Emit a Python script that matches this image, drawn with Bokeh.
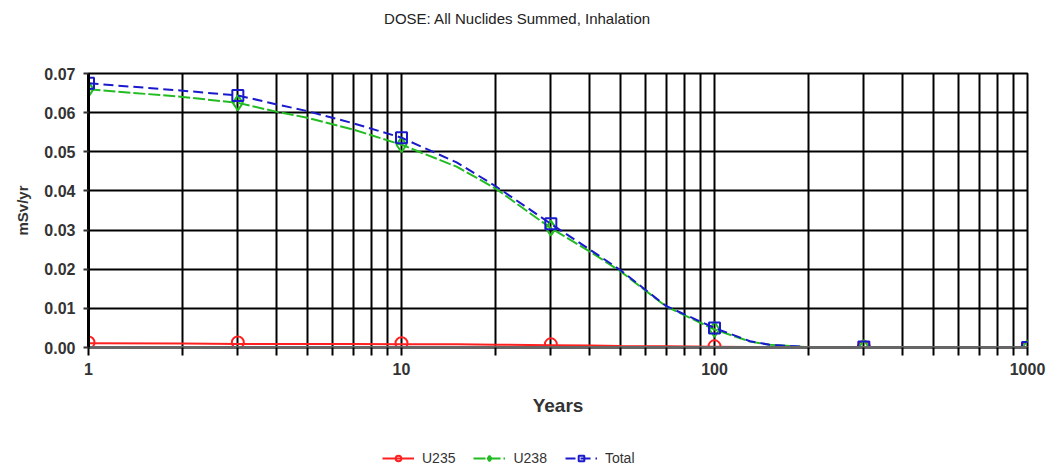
from bokeh.plotting import figure
from bokeh.layouts import column
from bokeh.models import FixedTicker, NumeralTickFormatter, Legend, LegendItem, Range1d, Label
from bokeh.embed import file_html
from bokeh.resources import INLINE

title_text = "DOSE: All Nuclides Summed, Inhalation"
x_label = "Years"
y_label = "mSv/yr"
x_ticks = [1, 10, 100, 1000]
x_minor_ticks = [2, 3, 4, 5, 6, 7, 8, 9, 20, 30, 40, 50, 60, 70, 80, 90,
                 200, 300, 400, 500, 600, 700, 800, 900]
y_ticks = [0.00, 0.01, 0.02, 0.03, 0.04, 0.05, 0.06, 0.07]

series_names = ["U235", "U238", "Total"]

# marker positions
marker_years = [1, 3, 10, 30, 100, 300, 1000]
u235_markers = [0.0013, 0.0013, 0.0011, 0.0008, 0.0003, 0.0001, 0.0]
u238_markers = [0.0660, 0.0625, 0.0518, 0.0305, 0.0046, 0.0, 0.0]
total_markers = [0.0675, 0.0644, 0.0536, 0.0316, 0.0050, 0.0001, 0.0]

# smooth curves
curve_years = [1, 2, 3, 4, 5, 7, 10, 15, 20, 30, 40, 50, 70, 100, 130, 150, 200, 300, 1000]
u235_curve = [0.0011, 0.0010, 0.0009, 0.0009, 0.0009, 0.0009, 0.0008, 0.0008, 0.0007, 0.0006,
              0.0005, 0.0004, 0.0003, 0.0002, 0.0001, 0.0001, 0.0001, 0.0, 0.0]
u238_curve = [0.0660, 0.0640, 0.0625, 0.0602, 0.0587, 0.0557, 0.0518, 0.0462, 0.0406, 0.0305,
              0.0245, 0.0195, 0.0105, 0.0046, 0.0015, 0.0007, 0.0001, 0.0, 0.0]
total_curve = [0.0675, 0.0656, 0.0644, 0.0621, 0.0604, 0.0573, 0.0536, 0.0473, 0.0412, 0.0316,
               0.0250, 0.0198, 0.0106, 0.0050, 0.0016, 0.0007, 0.0001, 0.0, 0.0]

colors = ["#ff2020", "#22bb22", "#1a1acc"]
markers = ["circle", "diamond", "square"]
marker_sizes = [12, 15, 11]
dashes = ["solid", "12 3", "10 5"]
curves = [u235_curve, u238_curve, total_curve]
marks = [u235_markers, u238_markers, total_markers]

# ---- header (title) ----
head = figure(width=1060, height=40, output_backend="svg", toolbar_location=None,
              x_axis_location=None, y_axis_location=None, min_border=0,
              x_range=Range1d(0, 1), y_range=Range1d(0, 1))
head.grid.visible = False
head.outline_line_color = None
head.add_layout(Label(x=429, y=22, x_units="screen", y_units="screen", text=title_text,
                      text_align="center", text_baseline="middle",
                      text_font="Liberation Sans", text_font_size="15px",
                      text_color="#222222"))

# ---- main plot ----
p = figure(width=1060, height=400, x_axis_type="log", output_backend="svg",
           toolbar_location=None, x_range=Range1d(1, 1000), y_range=Range1d(0, 0.07),
           min_border_left=88, min_border_right=33, min_border_top=33, min_border_bottom=93)
p.background_fill_color = "white"
p.border_fill_color = "white"
p.outline_line_color = "black"
p.outline_line_width = 2

xt = FixedTicker(ticks=x_ticks, minor_ticks=x_minor_ticks)
p.xaxis.ticker = xt
p.xgrid.ticker = xt
p.xaxis.formatter = NumeralTickFormatter(format="0")
p.xgrid.grid_line_color = "black"
p.xgrid.grid_line_width = 2
p.xgrid.minor_grid_line_color = "black"
p.xgrid.minor_grid_line_width = 2

yt = FixedTicker(ticks=y_ticks)
p.yaxis.ticker = yt
p.ygrid.ticker = yt
p.yaxis.formatter = NumeralTickFormatter(format="0.00")
p.ygrid.grid_line_color = "black"
p.ygrid.grid_line_width = 2

for ax in (p.xaxis, p.yaxis):
    ax.major_label_text_font = "Liberation Sans"
    ax.major_label_text_font_style = "bold"
    ax.major_label_text_font_size = "16px"
    ax.major_label_text_color = "#333333"
    ax.axis_label_text_font = "Liberation Sans"
    ax.axis_label_text_font_style = "bold"
    ax.axis_label_text_color = "#333333"

p.xaxis.axis_label = x_label
p.xaxis.axis_label_text_font_size = "19px"
p.xaxis.axis_line_color = "#666666"
p.xaxis.axis_line_width = 3
p.xaxis.major_tick_line_color = "black"
p.xaxis.major_tick_line_width = 2
p.xaxis.major_tick_out = 8
p.xaxis.major_tick_in = 0
p.xaxis.minor_tick_line_color = "black"
p.xaxis.minor_tick_line_width = 2
p.xaxis.minor_tick_out = 8
p.xaxis.minor_tick_in = 0
p.xaxis.major_label_standoff = 7
p.xaxis.axis_label_standoff = 17

p.yaxis.axis_label = y_label
p.yaxis.axis_label_text_font_size = "15px"
p.yaxis.axis_line_color = "black"
p.yaxis.axis_line_width = 3
p.yaxis.major_tick_line_color = "#333333"
p.yaxis.major_tick_line_width = 2
p.yaxis.major_tick_out = 5
p.yaxis.major_tick_in = 0
p.yaxis.minor_tick_line_color = None
p.yaxis.major_label_standoff = 8
p.yaxis.axis_label_standoff = 10

# ---- legend strip (its renderers reuse the data but lie outside its view) ----
foot = figure(width=1060, height=32, output_backend="svg", toolbar_location=None,
              x_axis_location=None, y_axis_location=None, min_border=0,
              x_range=Range1d(2000, 3000), y_range=Range1d(0, 1))
foot.grid.visible = False
foot.outline_line_color = None

items = []
for name, col, mk, ms, dash, cv, mv in zip(series_names, colors, markers, marker_sizes,
                                           dashes, curves, marks):
    p.line(curve_years, cv, line_color=col, line_width=2, line_dash=dash)
    p.scatter(marker_years, mv, marker=mk, size=ms, line_color=col, line_width=2,
              fill_alpha=0)
    lr = foot.line(curve_years, cv, line_color=col, line_width=2, line_dash=dash)
    sr = foot.scatter(marker_years, mv, marker=mk, size=ms, line_color=col, line_width=2,
                      fill_alpha=0)
    items.append(LegendItem(label=name, renderers=[lr, sr]))

legend = Legend(items=items, orientation="horizontal", location=(294, 6),
                label_text_font="Liberation Sans", label_text_font_size="14px",
                label_text_color="#333333", glyph_width=32, glyph_height=14,
                label_standoff=8, spacing=18, padding=4, margin=0,
                border_line_color=None, background_fill_alpha=0)
foot.add_layout(legend, "center")

layout = column(head, p, foot, spacing=0)
open("out.html", "w").write(file_html(layout, INLINE))
